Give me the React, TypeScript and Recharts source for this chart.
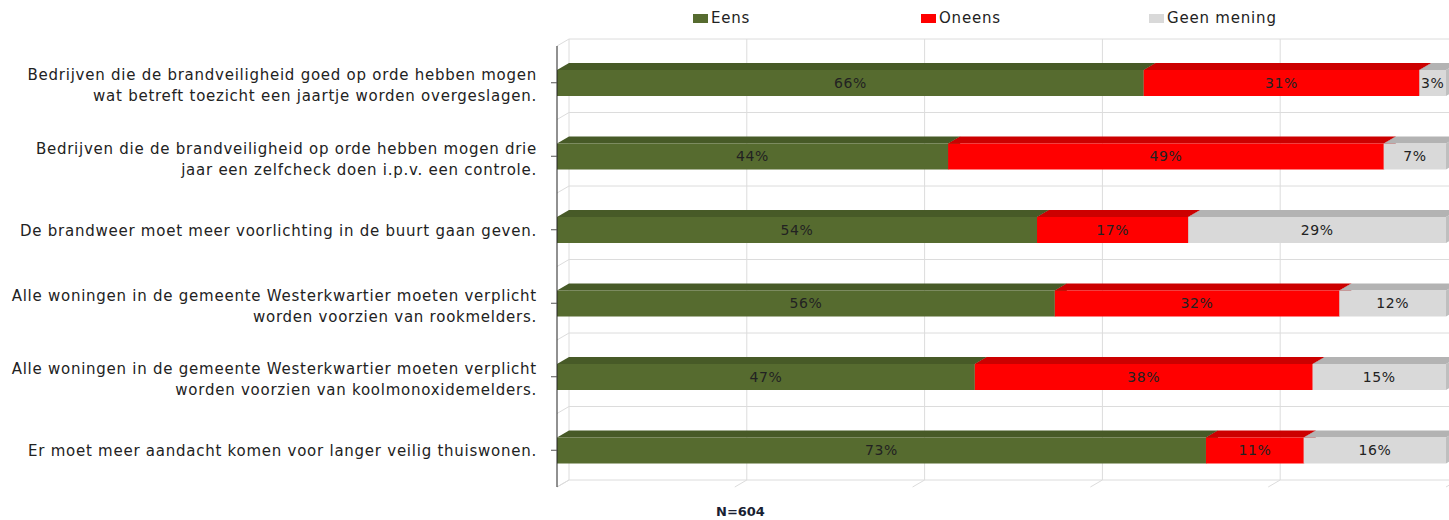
import React from 'react';
import { BarChart, Bar, XAxis, YAxis, CartesianGrid, LabelList } from 'recharts';

const categories = [
  'Bedrijven die de brandveiligheid goed op orde hebben mogen\nwat betreft toezicht een jaartje worden overgeslagen.',
  'Bedrijven die de brandveiligheid op orde hebben mogen drie\njaar een zelfcheck doen i.p.v. een controle.',
  'De brandweer moet meer voorlichting in de buurt gaan geven.',
  'Alle woningen in de gemeente Westerkwartier moeten verplicht\nworden voorzien van rookmelders.',
  'Alle woningen in de gemeente Westerkwartier moeten verplicht\nworden voorzien van koolmonoxidemelders.',
  'Er moet meer aandacht komen voor langer veilig thuiswonen.',
];
const eens = [66, 44, 54, 56, 47, 73];
const oneens = [31, 49, 17, 32, 38, 11];
const geenMening = [3, 7, 29, 12, 15, 16];
const seriesNames = ['Eens', 'Oneens', 'Geen mening'];
const xTicks = [0, 20, 40, 60, 80, 100];
const sampleNote = 'N=604';

const data = categories.map((name, i) => ({
  name,
  eens: eens[i],
  oneens: oneens[i],
  geen: geenMening[i],
}));

const FONT = '"DejaVu Sans", Verdana, sans-serif';
const DX = 12;
const DY = 7;
const GRID = '#dcdcdc';

const seriesStyle = [
  { key: 'eens', front: '#566b2f', top: '#475a27', side: '#3f5022' },
  { key: 'oneens', front: '#ff0000', top: '#cc0000', side: '#b30000' },
  { key: 'geen', front: '#d9d9d9', top: '#b3b3b3', side: '#bfbfbf' },
];

function make3DShape(front: string, top: string, side: string) {
  return (props: any) => {
    const { x, y, width, height } = props;
    if (!width || width <= 0) return <g />;
    return (
      <g>
        <polygon
          points={`${x + width},${y} ${x + width + DX},${y - DY} ${x + width + DX},${y + height - DY} ${x + width},${y + height}`}
          fill={side}
        />
        <polygon
          points={`${x},${y} ${x + DX},${y - DY} ${x + width + DX},${y - DY} ${x + width},${y}`}
          fill={top}
        />
        <rect x={x} y={y} width={width} height={height} fill={front} />
      </g>
    );
  };
}

const HLine = (p: any) => (
  <g key={p.key}>
    <line x1={p.x1 + DX} y1={p.y1 - DY} x2={p.x2 + DX} y2={p.y2 - DY} stroke={GRID} strokeWidth={1} />
    <line x1={p.x1} y1={p.y1} x2={p.x1 + DX} y2={p.y1 - DY} stroke={GRID} strokeWidth={1} />
  </g>
);

const VLine = (p: any) => (
  <g key={p.key}>
    <line x1={p.x1 + DX} y1={p.y1 - DY} x2={p.x2 + DX} y2={p.y2 - DY} stroke={GRID} strokeWidth={1} />
    <line x1={p.x2} y1={p.y2} x2={p.x2 + DX} y2={p.y2 - DY} stroke={GRID} strokeWidth={1} />
  </g>
);

const CategoryTick = (props: any) => {
  const { x, y, payload } = props;
  const lines = String(payload.value).split('\n');
  const lh = 21;
  const start = -((lines.length - 1) * lh) / 2 + 5 + (lines.length > 1 ? 3 : 1);
  return (
    <text x={x} y={y} textAnchor="end" fill="#222" fontSize={15} letterSpacing={0.75} fontFamily={FONT}>
      {lines.map((l, i) => (
        <tspan key={i} x={x} dy={i === 0 ? start : lh}>
          {l}
        </tspan>
      ))}
    </text>
  );
};

export default function App() {
  return (
    <div style={{ position: 'absolute', left: 0, top: 0, width: 1449, height: 520, background: '#fff' }}>
      <BarChart
        width={1449}
        height={520}
        data={data}
        layout="vertical"
        margin={{ top: 46, right: 3, bottom: 33, left: 0 }}
        barSize={26}
      >
        <CartesianGrid
          stroke={GRID}
          horizontal={HLine}
          vertical={VLine}
          horizontalCoordinatesGenerator={({ offset }: any) =>
            Array.from({ length: categories.length + 1 }, (_, i) => offset.top + (i * offset.height) / categories.length)
          }
          verticalCoordinatesGenerator={({ offset }: any) =>
            xTicks.map((t) => offset.left + (t / 100) * offset.width)
          }
        />
        <XAxis type="number" domain={[0, 100]} ticks={xTicks} hide />
        <YAxis
          type="category"
          dataKey="name"
          width={557}
          axisLine={{ stroke: '#222' }}
          tickLine={{ stroke: '#555' }}
          tickSize={6}
          tickMargin={14}
          tick={<CategoryTick />}
          interval={0}
        />
        {seriesStyle.map((s, i) => (
          <Bar
            key={s.key}
            dataKey={s.key}
            name={seriesNames[i]}
            stackId="a"
            fill={s.front}
            isAnimationActive={false}
            shape={make3DShape(s.front, s.top, s.side)}
          >
            <LabelList
              dataKey={s.key}
              position="center"
              formatter={(v: any) => `${v}%`}
              fill="#222"
              fontSize={14}
              letterSpacing={0.6}
              fontFamily={FONT}
            />
          </Bar>
        ))}
      </BarChart>
      <div
        style={{
          position: 'absolute',
          top: 9,
          left: 693,
          display: 'flex',
          fontFamily: FONT,
          fontSize: 15,
          letterSpacing: 0.8,
          color: '#222',
        }}
      >
        {seriesNames.map((n, i) => (
          <div key={n} style={{ width: 228, display: 'flex', alignItems: 'center' }}>
            <span style={{ display: 'inline-block', width: 15, height: 9, background: seriesStyle[i].front, marginRight: 3 }} />
            <span>{n}</span>
          </div>
        ))}
      </div>
      <div
        style={{
          position: 'absolute',
          top: 504,
          left: 716,
          fontFamily: FONT,
          fontWeight: 'bold',
          fontSize: 13,
          color: '#1a1f33',
        }}
      >
        {sampleNote}
      </div>
    </div>
  );
}
